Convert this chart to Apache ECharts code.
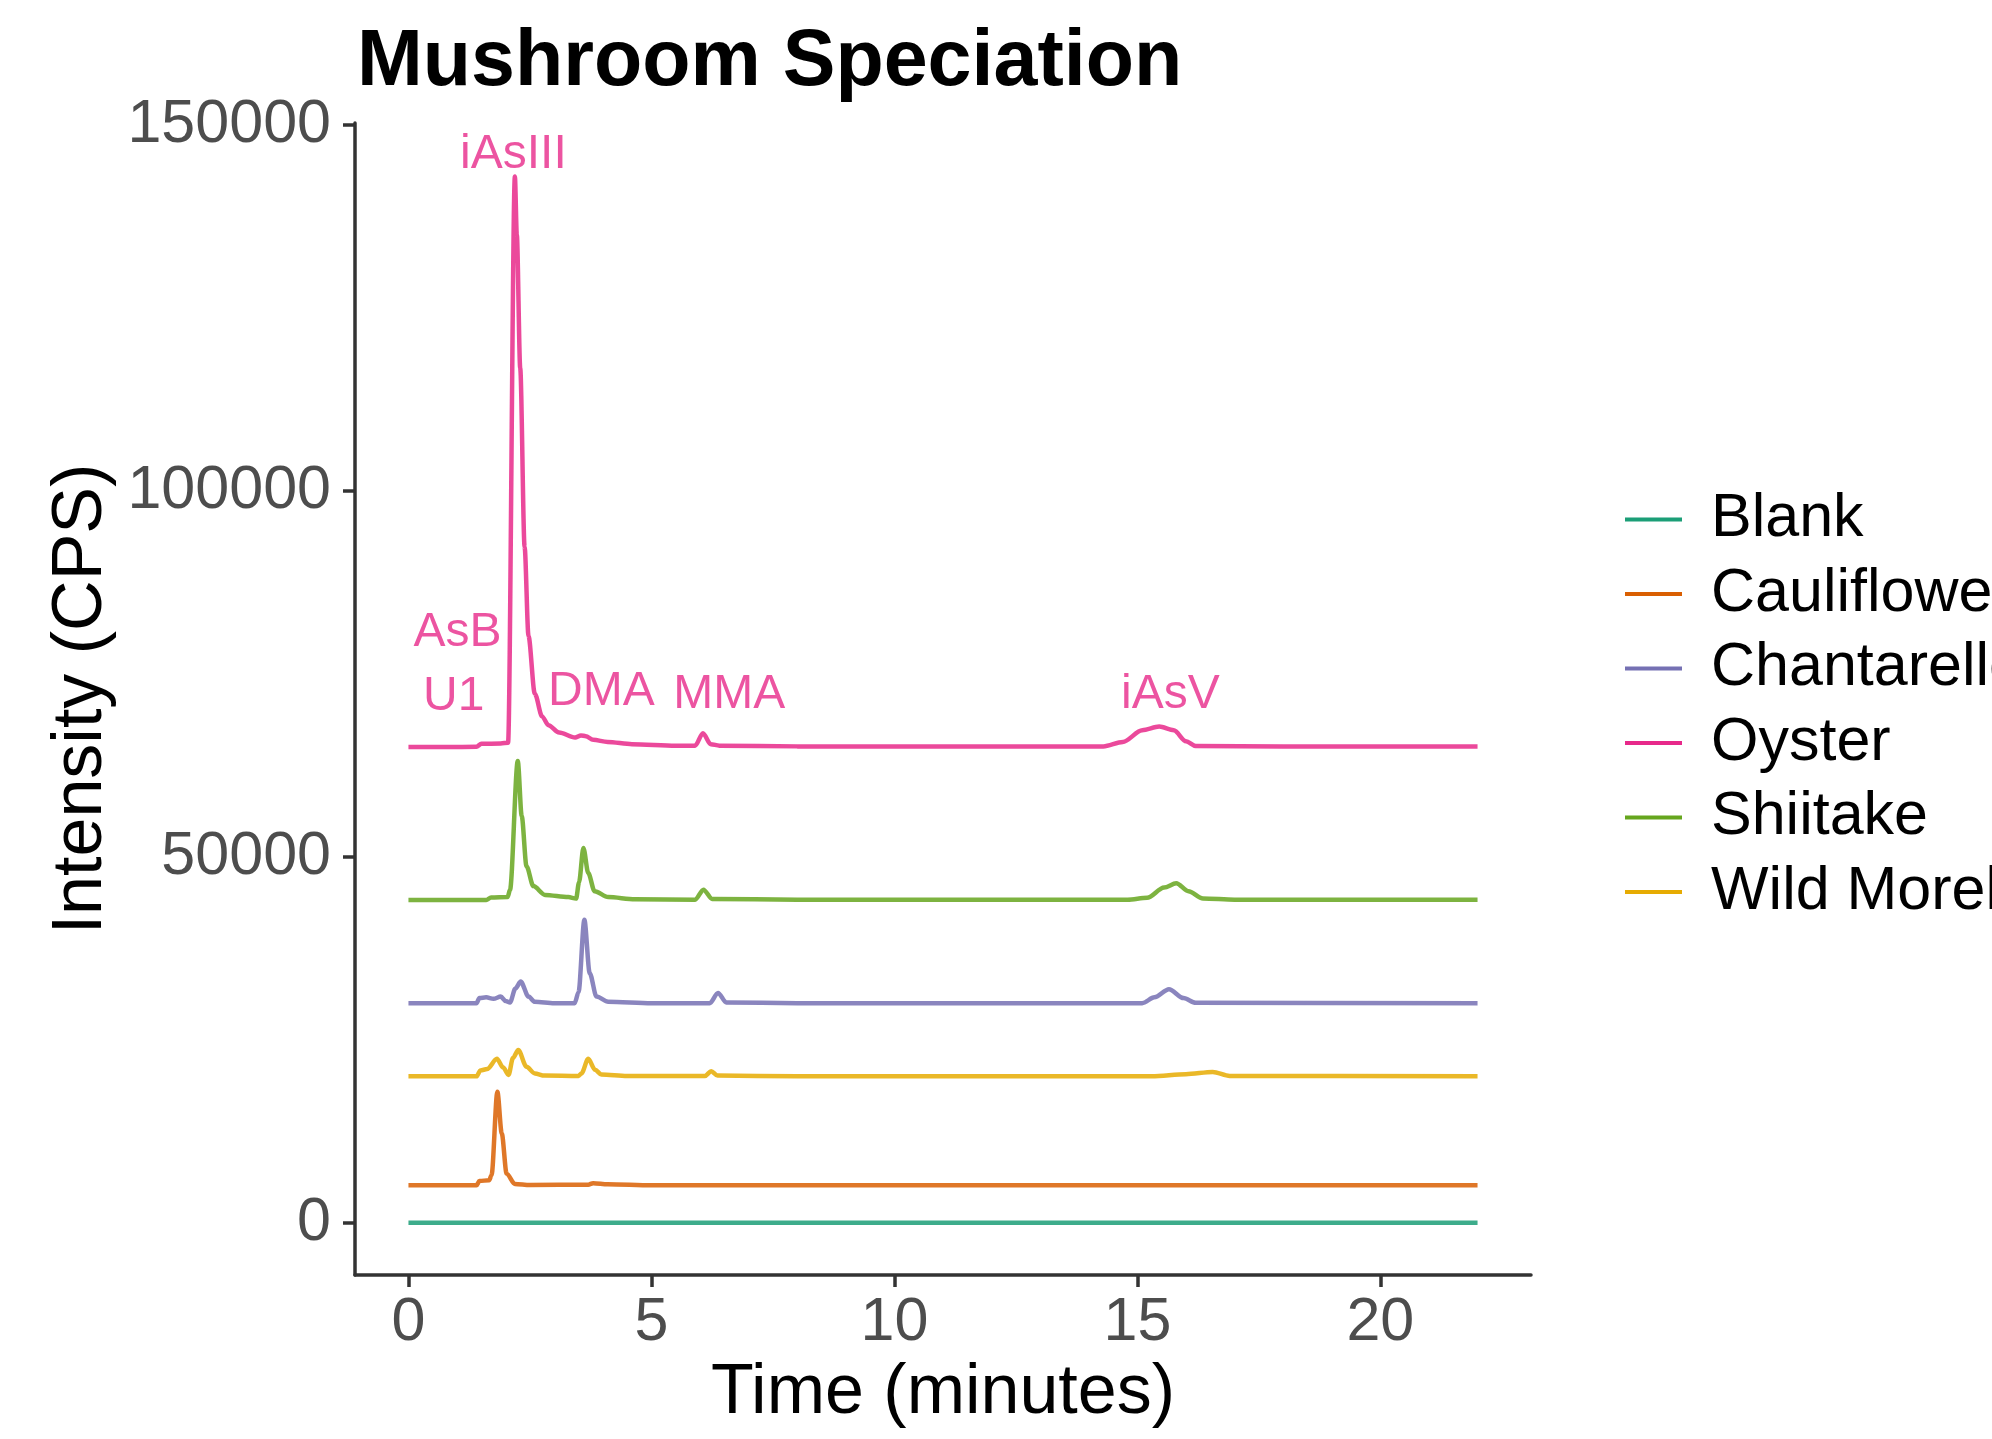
<!DOCTYPE html>
<html>
<head>
<meta charset="utf-8">
<title>Mushroom Speciation</title>
<script src="https://cdn.jsdelivr.net/npm/echarts@6/dist/echarts.min.js"></script>
<style>
  html, body { margin: 0; padding: 0; background: #fff; }
  #chart { width: 1992px; height: 1439px; }
</style>
</head>
<body>
<div id="chart"></div>
<script>
// sample names (legend order)
const samples = ['Blank', 'Cauliflower', 'Chantarelle', 'Oyster', 'Shiitake', 'Wild Morel'];
// Dark2 palette
const colors = ['#1B9E77', '#D95F02', '#7570B3', '#E7298A', '#66A61E', '#E6AB02'];

// chromatograms: [time (min), intensity (CPS)]
const blank = [[0, 0], [8, 0], [16, 0], [22, 0]];
const cauliflower = [
  [0, 5100], [1.4, 5100], [1.46, 5700], [1.66, 5800], [1.71, 6500],
  [1.83, 17900], [1.92, 12200], [2.02, 6700], [2.19, 5300], [2.5, 5150], [3.7, 5200],
  [3.8, 5400], [4.1, 5250], [5, 5100], [22, 5100]
];
const chantarelle = [
  [0, 30000], [1.4, 30000], [1.46, 30700], [1.6, 30800], [1.75, 30600], [1.9, 30900],
  [2.0, 30300], [2.09, 30100], [2.2, 32000], [2.31, 32950], [2.47, 30900], [2.6, 30200],
  [3.0, 30000], [3.42, 30000], [3.5, 31500], [3.62, 41400], [3.73, 34100], [3.87, 30900],
  [4.11, 30200], [5, 30000], [6.2, 30000], [6.37, 31400], [6.54, 30100], [8, 30000],
  [15.1, 30000], [15.35, 30800], [15.65, 31900], [15.95, 30700], [16.2, 30050], [22, 30000]
];
const oyster = [
  [0, 65000], [0.8, 65000], [1.4, 65050], [1.5, 65450], [1.9, 65500], [2.05, 65600],
  [2.19, 143000], [2.23, 135000], [2.30, 116800],
  [2.39, 92400], [2.47, 80200], [2.60, 72300], [2.75, 69200], [2.88, 68000], [3.1, 67000],
  [3.43, 66300], [3.55, 66600], [3.65, 66500], [3.8, 66000], [4.1, 65700], [4.6, 65400],
  [5.5, 65200], [5.9, 65200], [6.06, 66900], [6.22, 65400], [6.4, 65200], [8, 65100],
  [12, 65100], [14.3, 65100], [14.7, 65700], [15.1, 67300], [15.45, 67800], [15.75, 67300],
  [16.0, 65800], [16.2, 65150], [18, 65100], [22, 65100]
];
const shiitake = [
  [0, 44100], [1.6, 44100], [1.7, 44450], [2.04, 44500], [2.09, 45500],
  [2.25, 63100], [2.33, 55600], [2.43, 48700], [2.57, 46000], [2.81, 44800], [3.29, 44500],
  [3.45, 44300], [3.51, 46500], [3.60, 51200], [3.70, 47800], [3.83, 45300], [4.11, 44500],
  [4.66, 44200], [5.9, 44150], [6.07, 45500], [6.25, 44250], [8, 44150], [14.8, 44150],
  [15.2, 44400], [15.55, 45800], [15.8, 46400], [16.05, 45300], [16.35, 44300], [17, 44150],
  [22, 44150]
];
const wildMorel = [
  [0, 20000], [1.4, 20000], [1.48, 20800], [1.62, 21000], [1.82, 22400], [1.95, 21200],
  [2.06, 20200], [2.15, 22500], [2.26, 23600], [2.43, 21300], [2.6, 20400], [2.8, 20100],
  [3.5, 20050], [3.56, 20400], [3.70, 22400], [3.84, 20900], [3.97, 20250], [4.5, 20050],
  [6.1, 20050], [6.23, 20700], [6.36, 20100], [8, 20000], [15.3, 20000], [16.0, 20300],
  [16.55, 20600], [16.9, 20050], [22, 20000]
];
const sampleData = [blank, cauliflower, chantarelle, oyster, shiitake, wildMorel];

// peak annotations
const peakNames = ['iAsIII', 'AsB', 'U1', 'DMA', 'MMA', 'iAsV'];
const peakX = [2.16, 1.01, 0.93, 3.97, 6.6, 15.68];
const peakY = [145900, 80600, 71900, 72500, 72100, 72100];

// ticks
const xTicks = [0, 5, 10, 15, 20];
const yTicks = [0, 50000, 100000, 150000];

const chart = echarts.init(document.getElementById('chart'), null, { renderer: 'canvas' });

const FONT = 'Liberation Sans, Arial, Helvetica, sans-serif';

const series = samples.map((name, i) => ({
  name: name,
  type: 'line',
  data: sampleData[i],
  showSymbol: false,
  smooth: 0.3,
  smoothMonotone: 'x',
  color: colors[i],
  lineStyle: { width: 4.5, opacity: 0.85 },
  z: 2 + i
}));

// 峰标注
series.push({
  name: 'peaks',
  type: 'scatter',
  symbolSize: 0,
  data: peakNames.map((n, i) => ({ name: n, value: [peakX[i], peakY[i]] })),
  label: {
    show: true,
    position: 'inside',
    formatter: '{b}',
    color: '#E7298A',
    fontFamily: FONT,
    fontSize: 48
  },
  z: 20
});

chart.setOption({
  animation: false,
  backgroundColor: '#ffffff',
  title: {
    text: 'Mushroom Speciation',
    left: 357,
    top: 24,
    padding: 0,
    textStyle: { fontFamily: FONT, fontSize: 79, fontWeight: 'bold', color: '#000' }
  },
  legend: {
    data: samples,
    orient: 'vertical',
    left: 1620,
    top: 484,
    icon: 'rect',
    itemWidth: 57,
    itemHeight: 4,
    itemGap: 13.5,
    textStyle: { fontFamily: FONT, fontSize: 61, color: '#000', padding: [0, 0, 0, 24] }
  },
  grid: { left: 355, right: 461, top: 123, bottom: 164, containLabel: false },
  xAxis: {
    type: 'value',
    min: -1.1,
    max: 23.1,
    name: 'Time (minutes)',
    nameLocation: 'middle',
    nameGap: 80,
    nameTextStyle: { fontFamily: FONT, fontSize: 70, color: '#000' },
    splitLine: { show: false },
    axisLine: { show: true, onZero: false, lineStyle: { color: '#333', width: 3.5 } },
    axisTick: { show: true, length: 12, lineStyle: { color: '#333', width: 3.5 }, customValues: xTicks },
    axisLabel: { customValues: xTicks, margin: 18, fontFamily: FONT, fontSize: 61, color: '#4D4D4D' }
  },
  yAxis: {
    type: 'value',
    min: -7150,
    max: 150300,
    name: 'Intensity (CPS)',
    nameLocation: 'middle',
    nameGap: 224,
    nameTextStyle: { fontFamily: FONT, fontSize: 70, color: '#000' },
    splitLine: { show: false },
    axisLine: { show: true, onZero: false, lineStyle: { color: '#333', width: 3.5 } },
    axisTick: { show: true, length: 12, lineStyle: { color: '#333', width: 3.5 }, customValues: yTicks },
    axisLabel: {
      customValues: yTicks,
      margin: 24,
      fontFamily: FONT,
      fontSize: 61,
      color: '#4D4D4D',
      formatter: v => String(v)
    }
  },
  series: series
});
</script>
</body>
</html>
